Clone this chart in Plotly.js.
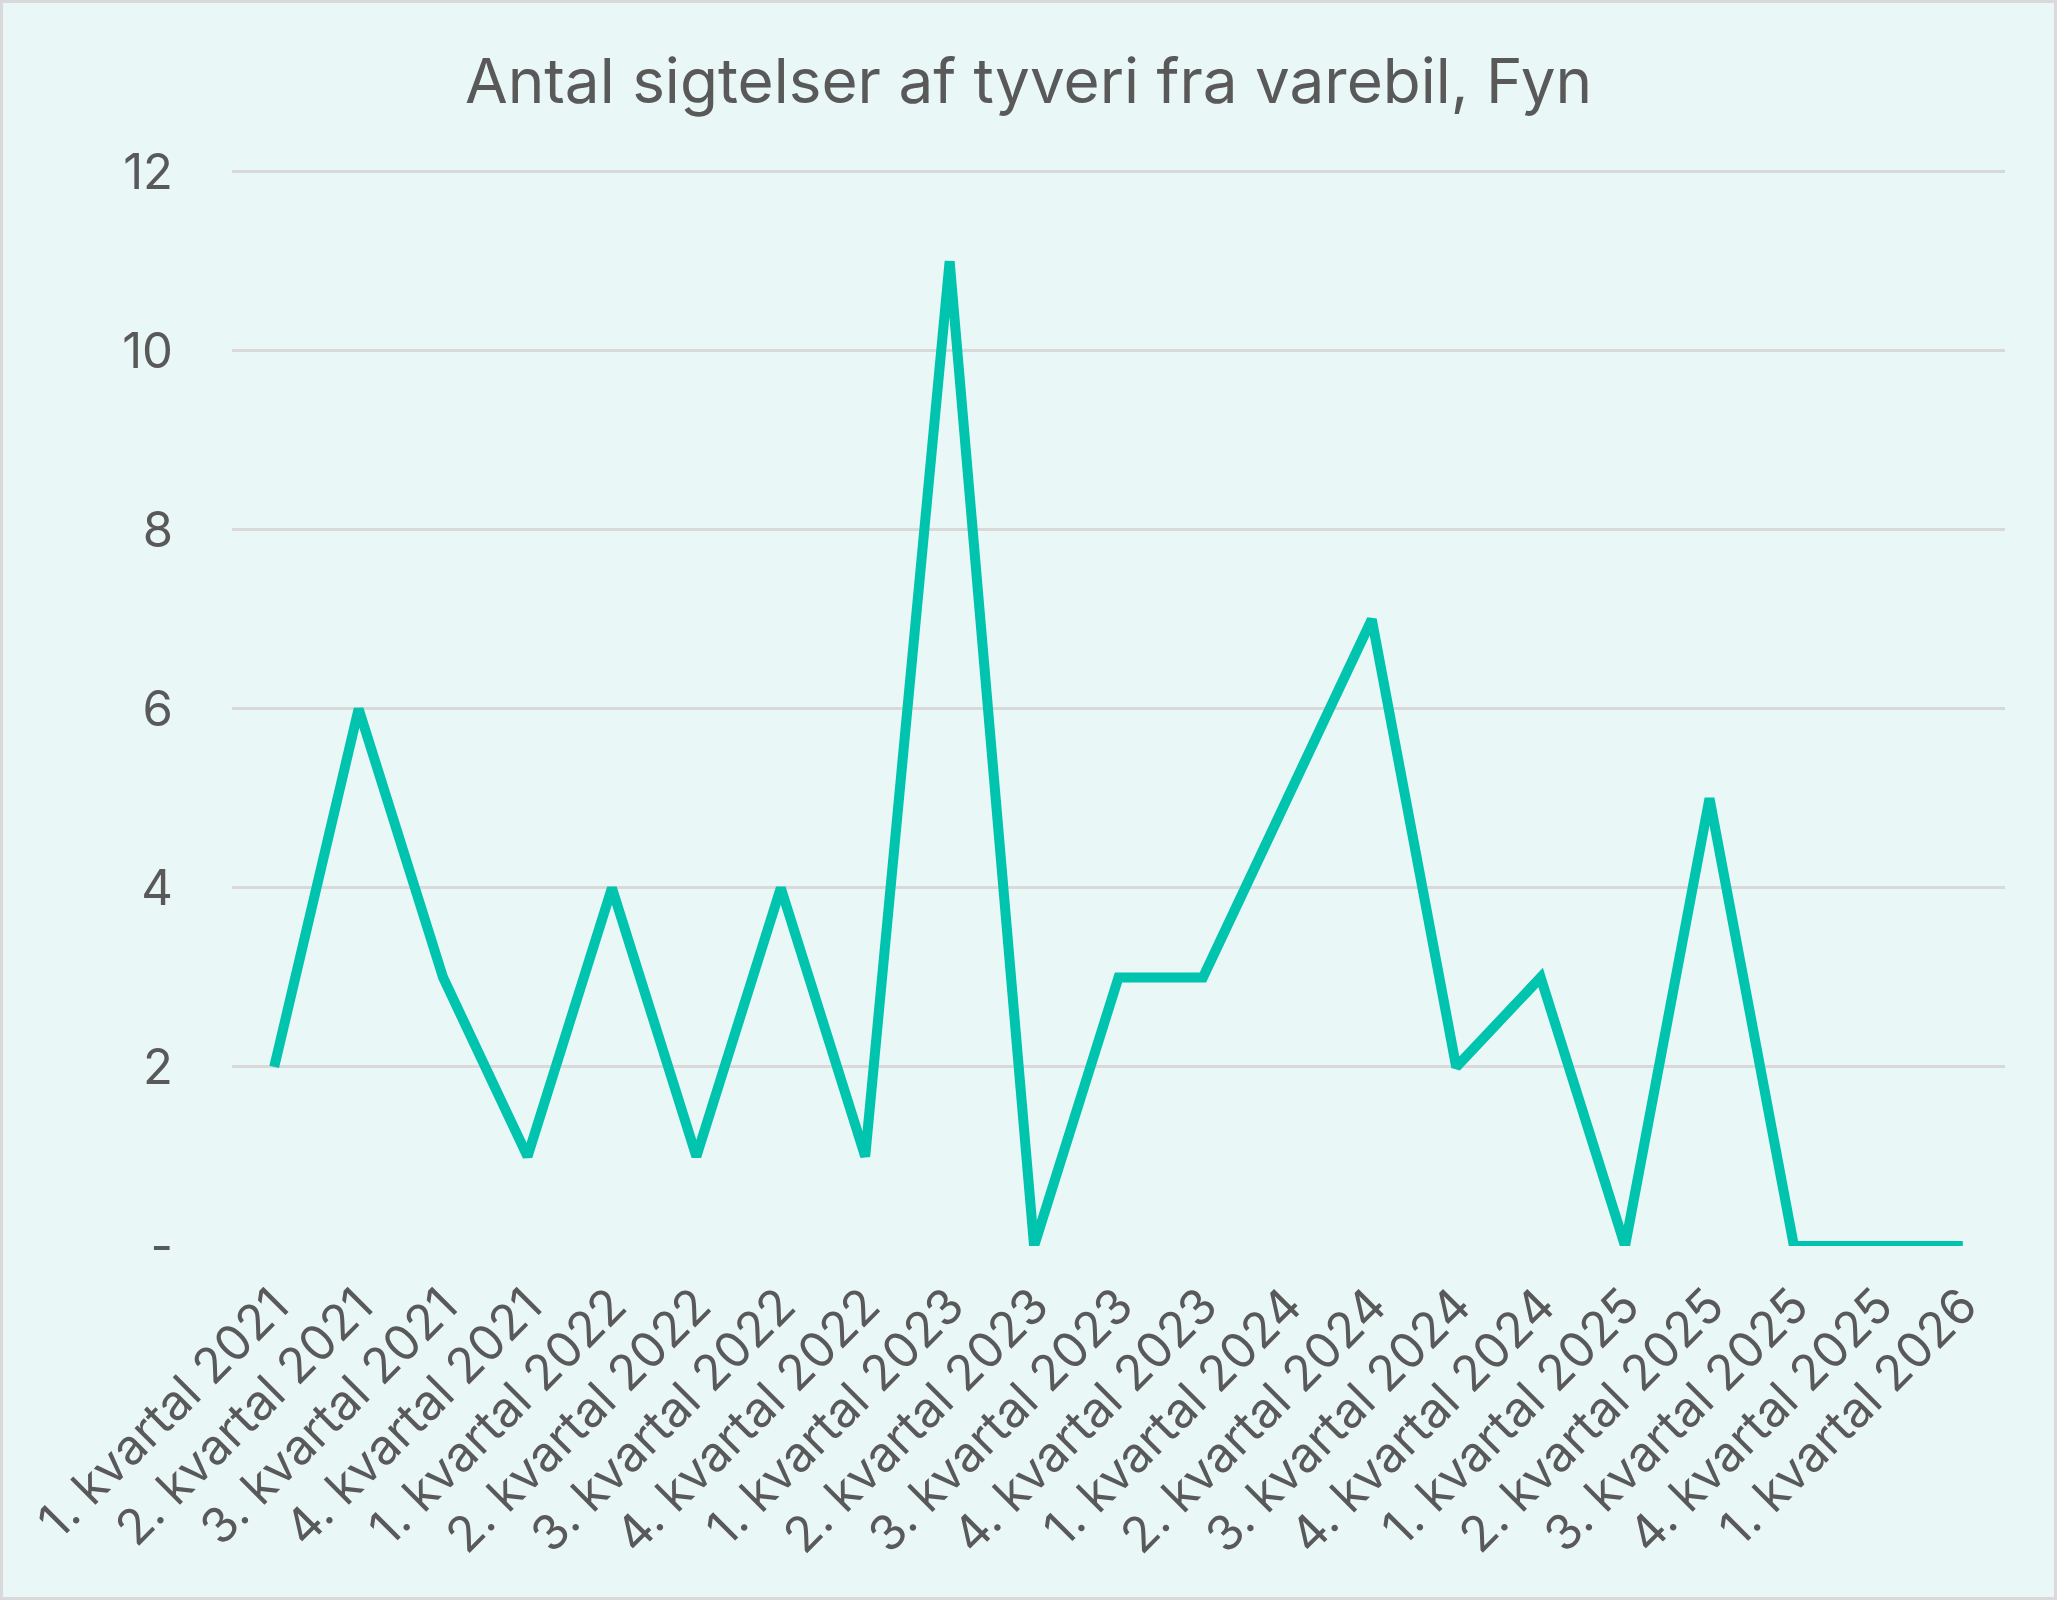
<!DOCTYPE html>
<html>
<head>
<meta charset="utf-8">
<script src="https://cdn.plot.ly/plotly-3.0.1.min.js"></script>
<style>
  html, body { margin: 0; padding: 0; background: #ffffff; }
  #chart {
    width: 2057px; height: 1600px; box-sizing: border-box;
    border: 3px solid #d9d9d9; background: #e9f7f6;
  }
</style>
</head>
<body>
<div id="chart"></div>
<script>
// Antal sigtelser pr. kvartal
const quarters = [
    '1. kvartal 2021', '2. kvartal 2021', '3. kvartal 2021', '4. kvartal 2021',
    '1. kvartal 2022', '2. kvartal 2022', '3. kvartal 2022', '4. kvartal 2022',
    '1. kvartal 2023', '2. kvartal 2023', '3. kvartal 2023', '4. kvartal 2023',
    '1. kvartal 2024', '2. kvartal 2024', '3. kvartal 2024', '4. kvartal 2024',
    '1. kvartal 2025', '2. kvartal 2025', '3. kvartal 2025', '4. kvartal 2025',
    '1. kvartal 2026'
];
const charges = [2, 6, 3, 1, 4, 1, 4, 1, 11, 0, 3, 3, 5, 7, 2, 3, 0, 5, 0, 0, 0];
const yTickVals = [0, 2, 4, 6, 8, 10, 12];
const yTickText = ['-', '2', '4', '6', '8', '10', '12'];

const textColor = '#595959';
const gridColor = '#d9d9d9';

Plotly.newPlot('chart', [{
    type: 'scatter',
    mode: 'lines',
    x: quarters,
    y: charges,
    line: { color: '#00c4ae', width: 10 },
    hoverinfo: 'x+y'
}], {
    width: 2051,
    height: 1594,
    paper_bgcolor: '#e9f7f6',
    plot_bgcolor: '#e9f7f6',
    font: { family: 'Inter, "Open Sans", sans-serif', color: textColor, size: 50 },
    margin: { l: 229, r: 49, t: 167, b: 351 },
    title: {
        text: 'Antal sigtelser af tyveri fra varebil, Fyn',
        font: { size: 62, color: textColor },
        x: 0.5, xanchor: 'center',
        y: 0.951, yanchor: 'middle'
    },
    xaxis: {
        type: 'category',
        range: [-0.5, quarters.length - 0.5],
        tickangle: -45,
        showgrid: false,
        zeroline: false,
        showline: false,
        ticks: '',
        ticklabelstandoff: 20,
        tickfont: { size: 49 }
    },
    yaxis: {
        range: [0, 12.02],
        tickvals: yTickVals,
        ticktext: yTickText,
        showgrid: true,
        gridcolor: gridColor,
        gridwidth: 3,
        zeroline: false,
        showline: false,
        ticks: '',
        ticklabelstandoff: 58,
        tickfont: { size: 49 }
    },
    showlegend: false
}, { displayModeBar: false, responsive: false });
</script>
</body>
</html>
